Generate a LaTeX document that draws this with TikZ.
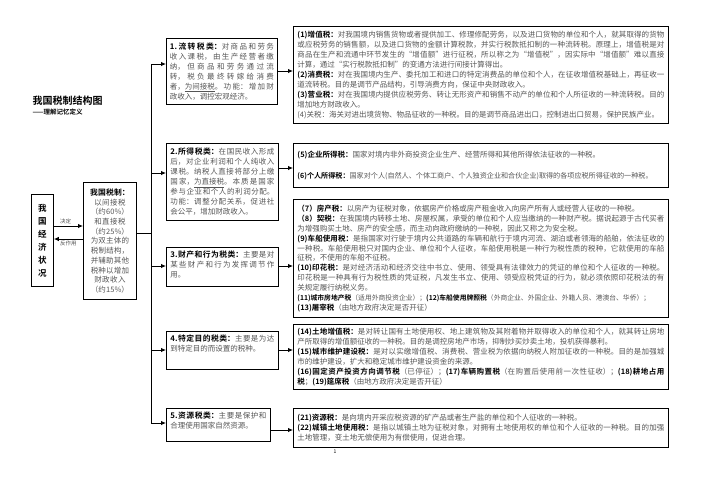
\documentclass[tikz,border=0pt]{standalone}
\usepackage{fontspec}
\setmainfont{Noto Sans CJK SC}[BoldFont={Noto Sans CJK SC Bold}]
\usepackage{tikz}
\usetikzlibrary{arrows.meta}
\XeTeXlinebreaklocale "zh"
\XeTeXlinebreakskip=0pt plus 1pt
\definecolor{TxtGray}{RGB}{85,85,85}
\tikzset{
  nd_cat/.style={
    rectangle, draw=black, line width=0.9pt, anchor=north west,
    inner sep=4pt, align=justify, text=TxtGray,
    font=\fontsize{7.5}{10}\selectfont},
  nd_tax/.style={
    rectangle, draw=black, line width=0.9pt, anchor=north west,
    inner sep=4pt, align=justify, text=TxtGray,
    font=\fontsize{7.5}{9.9}\selectfont},
  nd_head/.style={
    rectangle, draw=black, line width=0.9pt, anchor=north west,
    inner sep=0pt, align=center,
    font=\bfseries\fontsize{8.5}{13}\selectfont},
  hd/.style={text height=6pt, text depth={#1pt-14pt}},
  arr/.style={-{Latex[length=5pt,width=4.5pt]}, line width=0.9pt},
  lbl/.style={font=\fontsize{5.5}{6}\selectfont, text=TxtGray, inner sep=1.5pt},
}
\newcommand{\kw}[1]{{\color{black}\bfseries #1}}
\newcommand{\kwh}[1]{{\color{black}\bfseries\fontsize{7.8}{10}\selectfont #1}}

\begin{document}
\begin{tikzpicture}[x=1pt,y=-1pt]
\useasboundingbox (0,0) rectangle (702,496);

%% title
\node[anchor=west, font=\bfseries\fontsize{10}{12}\selectfont] (title) at (29,101) {我国税制结构图};
\node[anchor=west, font=\bfseries\fontsize{6.5}{8}\selectfont] (subtitle) at (29,112) {——理解记忆定义};

%% left part
\node[nd_head, minimum width=22, minimum height=92] (econ) at (31,194)
  {我\\国\\经\\济\\状\\况};
\node[nd_cat, align=center, text width=45, minimum height=117,
      font=\fontsize{7.5}{9.7}\selectfont] (sys) at (83,182)
  {\kwh{我国税制：}\\以间接税\\（约60\%）\\和直接税\\（约25\%）\\为双主体的\\税制结构，\\并辅助其他\\税种以增加\\财政收入\\（约15\%）};

%% tax classes
\node[nd_cat, inner sep=3.5pt, text width=104, minimum height=66] (c1) at (166,38)
  {\kwh{1.流转税类：}对商品和劳务收入课税，由生产经营者缴纳，但商品和劳务通过流转，税负最终转嫁给消费者，\underline{为间接税}。功能：增加财政收入，调控宏观经济。};
\node[nd_cat, text width=104, minimum height=77] (c2) at (166,143)
  {\kwh{2.所得税类：}在国民收入形成后，对企业利润和个人纯收入课税。纳税人直接将部分上缴国家，\underline{为直接税}。本质是国家参与企业和个人的利润分配。功能：调整分配关系，促进社会公平，增加财政收入。};
\node[nd_cat, text width=104, hd=39] (c3) at (166,247)
  {\kwh{3.财产和行为税类：}主要是对某些财产和行为发挥调节作用。};
\node[nd_cat, text width=104, hd=38] (c4) at (166,331)
  {\kwh{4.特定目的税类：}主要是为达到特定目的而设置的税种。};
\node[nd_cat, text width=96, hd=33] (c5) at (166,408)
  {\kwh{5.资源税类：}主要是保护和合理使用国家自然资源。};

%% taxes
\node[nd_tax, text width=367, minimum height=97] (tA) at (293,26)
  {\kw{(1)增值税：}对我国境内销售货物或者提供加工、修理修配劳务，以及进口货物的单位和个人，就其取得的货物或应税劳务的销售额，以及进口货物的金额计算税款，并实行税款抵扣制的一种流转税。原理上，增值税是对商品在生产和流通中环节发生的“增值额”进行征税，所以称之为“增值税”，因实际中“增值额”难以直接计算，通过“实行税款抵扣制”的变通方法进行间接计算得出。\\
   \kw{(2)消费税：}对在我国境内生产、委托加工和进口的特定消费品的单位和个人，在征收增值税基础上，再征收一道流转税。目的是调节产品结构，引导消费方向，保证中央财政收入。\\
   \kw{(3)营业税：}对在我国境内提供应税劳务、转让无形资产和销售不动产的单位和个人所征收的一种流转税。目的增加地方财政收入。\\
   (4)关税：海关对进出境货物、物品征收的一种税。目的是调节商品进出口，控制进出口贸易，保护民族产业。};
\node[nd_tax, text width=367, minimum height=44] (tB) at (293,143)
  {\kw{(5)企业所得税：}国家对境内非外商投资企业生产、经营所得和其他所得依法征收的一种税。\\[12pt]
   {\fontsize{7.1}{9.9}\selectfont\kw{(6)个人所得税：}国家对个人(自然人、个体工商户、个人独资企业和合伙企业)取得的各项应税所得征收的一种税。}};
\node[nd_tax, text width=367, minimum height=118] (tC) at (293,199)
  {\kw{（7）房产税：}以房产为征税对象，依据房产价格或房产租金收入向房产所有人或经营人征收的一种税。\\
   \kw{（8）契税：}在我国境内转移土地、房屋权属，承受的单位和个人应当缴纳的一种财产税。据说起源于古代买者为增强购买土地、房产的安全感，而主动向政府缴纳的一种税，因此又称之为安全税。\\
   \kw{(9)车船使用税：}是指国家对行驶于境内公共道路的车辆和航行于境内河流、湖泊或者领海的船舶，依法征收的一种税。车船使用税只对国内企业、单位和个人征收，车船使用税是一种行为税性质的税种，它就使用的车船征税，不使用的车船不征税。\\
   \kw{(10)印花税：}是对经济活动和经济交往中书立、使用、领受具有法律效力的凭证的单位和个人征收的一种税。印花税是一种具有行为税性质的凭证税，凡发生书立、使用、领受应税凭证的行为，就必须依照印花税法的有关规定履行纳税义务。\\
   {\fontsize{6.8}{9.9}\selectfont\kw{(11)城市房地产税}（适用外商投资企业）；\kw{(12)车船使用牌照税}（外商企业、外国企业、外籍人员、港澳台、华侨）；}\\
   \kw{(13)屠宰税}（由地方政府决定是否开征）};
\node[nd_tax, text width=367, minimum height=65] (tD) at (293,324)
  {\kw{(14)土地增值税：}是对转让国有土地使用权、地上建筑物及其附着物并取得收入的单位和个人，就其转让房地产所取得的增值额征收的一种税。目的是调控房地产市场，抑制炒买炒卖土地，投机获得暴利。\\
   \kw{(15)城市维护建设税：}是对以实缴增值税、消费税、营业税为依据向纳税人附加征收的一种税。目的是加强城市的维护建设，扩大和稳定城市维护建设资金的来源。\\
   \kw{(16)固定资产投资方向调节税}（已停征）；\kw{(17)车辆购置税}（在购置后使用前一次性征收）；\kw{(18)耕地占用税}；\kw{(19)筵席税}（由地方政府决定是否开征）};
\node[nd_tax, text width=367, minimum height=39] (tE) at (293,408)
  {\kw{(21)资源税：}是向境内开采应税资源的矿产品或者生产盐的单位和个人征收的一种税。\\
   \kw{(22)城镇土地使用税：}是指以城镇土地为征税对象，对拥有土地使用权的单位和个人征收的一种税。目的加强土地管理，变土地无偿使用为有偿使用，促进合理。};

\node[font=\fontsize{5}{6}\selectfont] (pg) at (335,452) {1};

%% connectors
\draw[arr] (econ.east |- 0,226) -- node[lbl, above, pos=0.4] {决定} (sys.west |- 0,226);
\draw[arr] (sys.west |- 0,239) -- node[lbl, below] {反作用} (econ.east |- 0,239);

\coordinate (ttop) at (151,64);
\coordinate (tbot) at (151,423);
\draw[line width=0.9pt] (ttop) -- (tbot);
\draw[line width=0.9pt] (sys.east |- 0,233) -- (ttop |- 0,233);

\foreach \n/\y in {c1/64,c2/173,c3/266,c4/350,c5/423}
  {\draw[arr] (ttop |- 0,\y) -- (\n.west |- 0,\y);}
\foreach \a/\b/\y in {c1/tA/71,c2/tB/168,c3/tC/266,c4/tD/350,c5/tE/430}
  {\draw[arr] (\a.east |- 0,\y) -- (\b.west |- 0,\y);}

\end{tikzpicture}
\end{document}
